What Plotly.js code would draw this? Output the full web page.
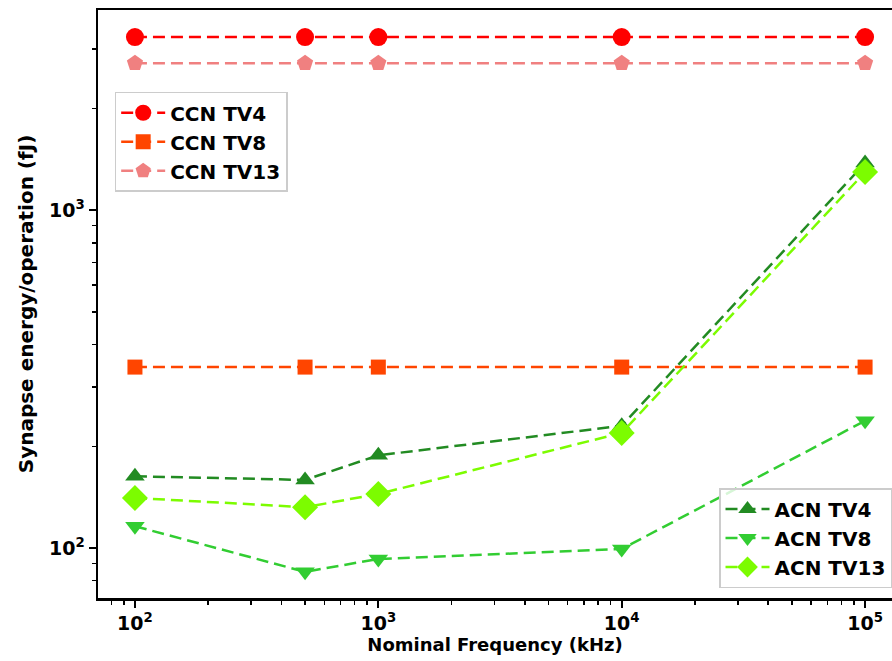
<!DOCTYPE html>
<html><head><meta charset="utf-8">
<script src="https://cdn.plot.ly/plotly-3.0.1.min.js"></script>
<style>html,body{margin:0;padding:0;background:#fff}</style>
</head><body>
<div id="chart" style="width:892px;height:661px"></div>
<script>
const freq = [100, 500, 1000, 10000, 100000];
const ccnTV4 = [3250, 3250, 3250, 3250, 3250];
const ccnTV8 = [343, 343, 343, 343, 343];
const ccnTV13 = [2720, 2720, 2720, 2720, 2720];
const acnTV4 = [163, 159, 188, 230, 1377];
const acnTV8 = [116, 85, 92.8, 99.3, 238];
const acnTV13 = [140.6, 132, 144.5, 219, 1295];
const xTickVals = [100, 1000, 10000, 100000];
const xTickText = ['10<sup>2</sup>', '10<sup>3</sup>', '10<sup>4</sup>', '10<sup>5</sup>'];
const yTickVals = [100, 1000];
const yTickText = ['10<sup>2</sup>', '10<sup>3</sup>'];

const FONT = 'DejaVu Sans, sans-serif';
const dash = '12px,6px';
function tr(name, y, color, symbol, size, legend) {
  return {x: freq, y: y, name: name, type: 'scatter', mode: 'lines+markers',
    line: {color: color, width: 2.5, dash: dash},
    marker: {color: color, symbol: symbol, size: size},
    legend: legend};
}
const data = [
  tr('<b>CCN TV4</b>', ccnTV4, '#ff0000', 'circle', 18, 'legend'),
  tr('<b>CCN TV8</b>', ccnTV8, '#ff4500', 'square', 15, 'legend'),
  tr('<b>CCN TV13</b>', ccnTV13, '#f08080', 'pentagon', 17, 'legend'),
  tr('<b>ACN TV4</b>', acnTV4, '#228b22', 'triangle-up', 17, 'legend2'),
  tr('<b>ACN TV8</b>', acnTV8, '#32cd32', 'triangle-down', 17, 'legend2'),
  tr('<b>ACN TV13</b>', acnTV13, '#7cfc00', 'diamond', 20, 'legend2')
];
const axisCommon = {
  type: 'log', showgrid: false, zeroline: false,
  showline: true, linecolor: '#000', linewidth: 2.5,
  ticks: 'outside', ticklen: 7, tickwidth: 2, tickcolor: '#000',
  tickfont: {family: FONT, size: 19, color: '#000', weight: 'bold'},
  minor: {ticks: 'outside', ticklen: 4, tickwidth: 1.5, tickcolor: '#000', dtick: 'D1', showgrid: false}
};
const legendCommon = {
  bgcolor: 'rgba(255,255,255,0.8)', bordercolor: '#cccccc', borderwidth: 1.5,
  font: {family: FONT, size: 20, color: '#000'}, itemwidth: 44, tracegroupgap: 0
};
const layout = {
  width: 892, height: 661,
  margin: {l: 98, r: 0, t: 10, b: 63},
  paper_bgcolor: '#fff', plot_bgcolor: '#fff',
  font: {family: FONT, color: '#000'},
  xaxis: Object.assign({}, axisCommon, {
    range: [Math.log10(70.5), Math.log10(129000)],
    tickmode: 'array', tickvals: xTickVals, ticktext: xTickText,
    mirror: true,
    title: {text: '<b>Nominal Frequency (kHz)</b>', font: {family: FONT, size: 18, color: '#000'}, standoff: 5}
  }),
  yaxis: Object.assign({}, axisCommon, {
    range: [1.852, 3.592],
    tickmode: 'array', tickvals: yTickVals, ticktext: yTickText,
    title: {text: '<b>Synapse energy/operation (fJ)</b>', font: {family: FONT, size: 20, color: '#000'}, standoff: 10}
  }),
  showlegend: true,
  legend: Object.assign({x: 0.021, y: 0.861, xanchor: 'left', yanchor: 'top'}, legendCommon),
  legend2: Object.assign({x: 1, y: 0.017, xanchor: 'right', yanchor: 'bottom'}, legendCommon)
};
Plotly.newPlot('chart', data, layout, {displayModeBar: false, staticPlot: true});
</script>
</body></html>
